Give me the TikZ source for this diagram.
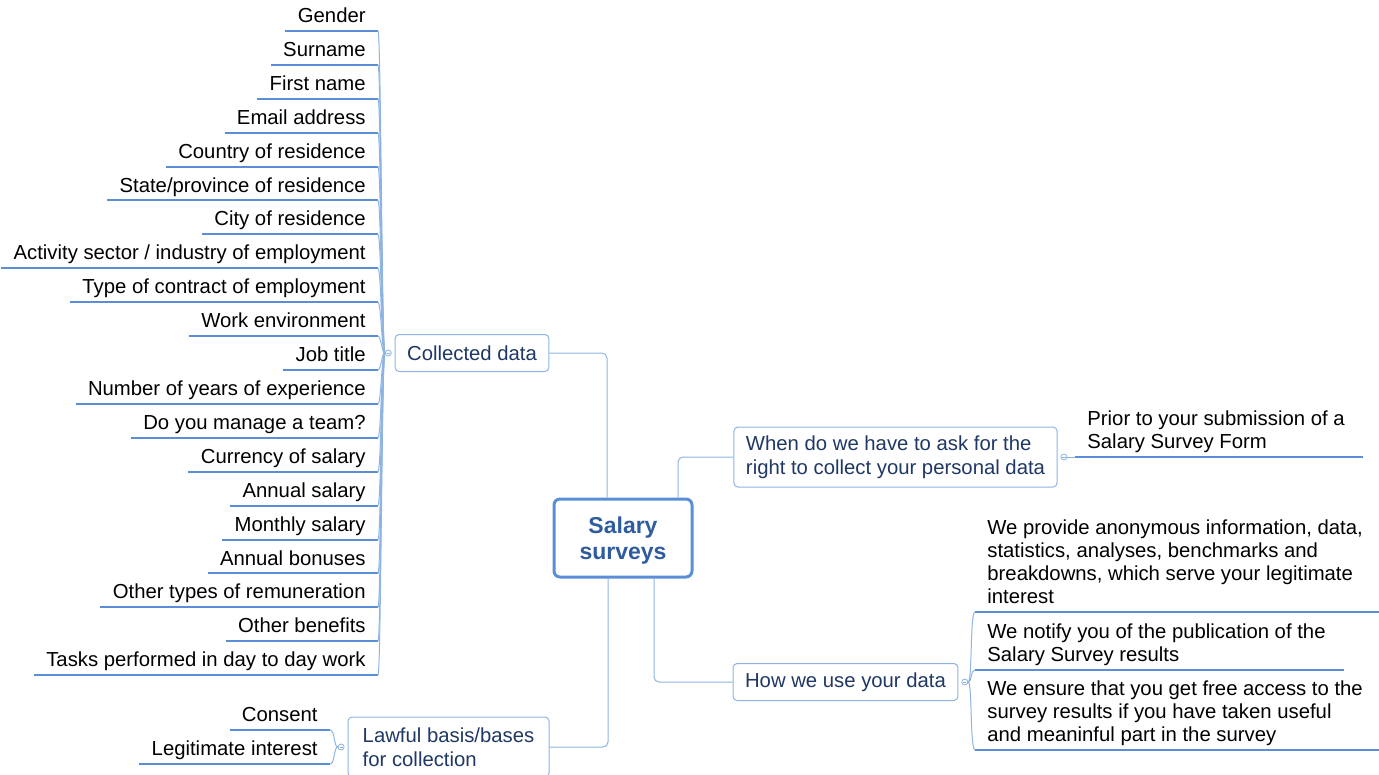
\documentclass[tikz,border=0pt]{standalone}
\usepackage{fontspec}
\setmainfont{Liberation Sans}
\usetikzlibrary{positioning}
\definecolor{mapnavy}{HTML}{1F3864}
\definecolor{mapblue}{HTML}{5A8ED6}
\definecolor{maplight}{HTML}{8EB4E3}
\definecolor{maptitle}{HTML}{2F5C9E}

\begin{document}
\begin{tikzpicture}[x=0.5pt, y=-0.5pt]
% STYLES
\tikzset{
    topic/.style={draw=mapblue, line width=1.5pt, rounded corners=3pt, fill=white,
    align=center, font=\fontsize{11.5pt}{13pt}\selectfont\bfseries, text=maptitle,
    minimum width=69pt, minimum height=39pt, text depth=0pt},
    branch/.style={draw=maplight, line width=0.5pt, rounded corners=2pt, fill=white,
    align=left, font=\fontsize{10.15pt}{11.75pt}\selectfont, text=mapnavy,
    inner xsep=6pt, minimum height=18.5pt},
    leaf/.style={align=left, font=\fontsize{10.15pt}{11.5pt}\selectfont,
    inner xsep=6pt, inner ysep=1.5pt, text height=7.5pt, text depth=2.5pt},
    underline/.style={draw=mapblue, line width=1pt},
    link/.style={draw=maplight, line width=0.5pt},
    fold/.style={circle, draw=maplight, line width=0.4pt, fill=white,
    inner sep=0pt, minimum size=3pt,
    path picture={\draw[maplight, line width=0.3pt]
      ([xshift=-0.8pt]path picture bounding box.center) --
      ([xshift=0.8pt]path picture bounding box.center);}}
}
\useasboundingbox (0,0) rectangle (1379,775);

% main topic and branches
\node [topic] (salary) at (623,538) {Salary\\surveys};
\node [branch] (collected) at (472,353) {Collected data};
\node [branch, minimum height=30pt] (when) at (895.5,457) {When do we have to ask for the\\right to collect your personal data};
\node [branch] (how) at (845.5,682) {How we use your data};
\node [branch, minimum height=30pt, minimum width=100.5pt] (lawful) at (448.5,747) {Lawful basis/bases\\for collection};

\node [fold, left=1.5pt of collected] (collectedfold) {};
\node [fold, right=1.5pt of when] (whenfold) {};
\node [fold, right=1.5pt of how] (howfold) {};
\node [fold, left=1.5pt of lawful] (lawfulfold) {};

% links from the main topic
\draw[link, rounded corners=2.5pt] (collected.east) -| ([xshift=-8pt]salary.north);
\draw[link, rounded corners=2.5pt] ([xshift=27.5pt]salary.north) |- (when.west);
\draw[link, rounded corners=2.5pt] ([xshift=-7.5pt]salary.south) |- (lawful.east);
\draw[link, rounded corners=2.5pt] ([xshift=15.5pt]salary.south) |- (how.west);

% collected data fields
\foreach \field [count=\i] in {Gender, Surname, First name, Email address,
  Country of residence, State/province of residence, City of residence,
  Activity sector / industry of employment, Type of contract of employment,
  Work environment, Job title, Number of years of experience,
  Do you manage a team?, Currency of salary, Annual salary, Monthly salary,
  Annual bonuses, Other types of remuneration, Other benefits,
  Tasks performed in day to day work}
{
  \pgfmathsetmacro\ypos{31+33.9*(\i-1)}
  \node [leaf, anchor=south east] (data\i) at (378,\ypos) {\field};
  \draw[underline] (data\i.south west) -- (data\i.south east);
  \draw[link] (collectedfold.west) .. controls ([xshift=-1.5pt]collectedfold.west)
    and ([xshift=1.5pt]data\i.south east) .. (data\i.south east);
}

% when
\node [leaf, anchor=south west] (prior) at (1075,457) {Prior to your submission of a\\Salary Survey Form};
\draw[underline] (prior.south west) -- ([xshift=3pt]prior.south east);
\draw[link] (whenfold.east) -- (prior.south west);

% how
\node [leaf, anchor=south west] (provide) at (975,612) {We provide anonymous information, data,\\statistics, analyses, benchmarks and\\breakdowns, which serve your legitimate\\interest};
\node [leaf, anchor=south west] (notify) at (975,670) {We notify you of the publication of the\\Salary Survey results};
\node [leaf, anchor=south west] (ensure) at (975,750) {We ensure that you get free access to the\\survey results if you have taken useful\\and meaninful part in the survey};
\foreach \use in {provide, notify, ensure}
{
  \draw[underline] (\use.south west) -- ([xshift=3pt]\use.south east);
  \draw[link] (howfold.east) .. controls ([xshift=2pt]howfold.east)
    and ([xshift=-2.5pt]\use.south west) .. (\use.south west);
}

% lawful basis
\node [leaf, anchor=south east] (consent) at (330,730) {Consent};
\node [leaf, anchor=south east] (legitimate) at (330,764) {Legitimate interest};
\foreach \basis in {consent, legitimate}
{
  \draw[underline] (\basis.south west) -- (\basis.south east);
  \draw[link] (lawfulfold.west) .. controls ([xshift=-2pt]lawfulfold.west)
    and ([xshift=2.5pt]\basis.south east) .. (\basis.south east);
}
\end{tikzpicture}
\end{document}
